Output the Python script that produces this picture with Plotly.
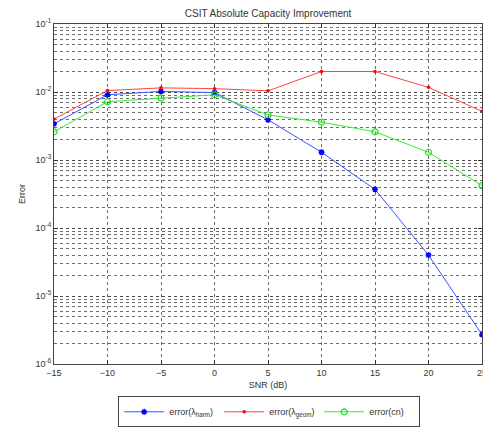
import plotly.graph_objects as go

snr = [-15, -10, -5, 0, 5, 10, 15, 20, 25]
err_harm = [3.4e-3, 9.1e-3, 1.02e-2, 9.8e-3, 3.9e-3, 1.3e-3, 3.7e-4, 4.0e-5, 2.7e-6]
err_geom = [4.0e-3, 1.05e-2, 1.15e-2, 1.12e-2, 1.04e-2, 2.0e-2, 2.0e-2, 1.17e-2, 5.2e-3]
err_cn = [2.6e-3, 7.2e-3, 8.1e-3, 9.1e-3, 4.6e-3, 3.6e-3, 2.6e-3, 1.3e-3, 4.2e-4]

x_ticks = [-15, -10, -5, 0, 5, 10, 15, 20, 25]
y_tickvals = [1e-6, 1e-5, 1e-4, 1e-3, 1e-2, 1e-1]
y_ticktext = ["10<sup>-6</sup>", "10<sup>-5</sup>", "10<sup>-4</sup>", "10<sup>-3</sup>", "10<sup>-2</sup>", "10<sup>-1</sup>"]

font_family = "Liberation Sans, Arial, sans-serif"
txt = "#333333"

fig = go.Figure()
fig.add_trace(go.Scatter(x=snr, y=err_harm, mode="lines+markers", name="error(λ<sub>harm</sub>)",
                         line=dict(color="#3355ff", width=1),
                         marker=dict(symbol="asterisk-open", size=5, color="#0000ff", line=dict(width=1.5, color="#0000ff"))))
fig.add_trace(go.Scatter(x=snr, y=err_geom, mode="lines+markers", name="error(λ<sub>geom</sub>)",
                         line=dict(color="#ff4444", width=1),
                         marker=dict(symbol="circle", size=3.5, color="#ff0000")))
fig.add_trace(go.Scatter(x=snr, y=err_cn, mode="lines+markers", name="error(cn)",
                         line=dict(color="#33ee33", width=1),
                         marker=dict(symbol="circle-open", size=6, color="#22dd22", line=dict(width=1.2))))

grid_col = "rgba(60,60,60,0.75)"
fig.update_layout(
    width=483, height=428,
    margin=dict(l=54, r=1, t=24, b=61),
    paper_bgcolor="white", plot_bgcolor="white",
    font=dict(family=font_family, size=9, color=txt),
    title=dict(text="CSIT Absolute Capacity Improvement", x=0.555, xanchor="center", y=0.968, yanchor="middle",
               font=dict(size=10, color=txt)),
    showlegend=True,
    legend=dict(orientation="h", x=0.15, xanchor="left", y=-0.095, yanchor="top",
                bordercolor="#444444", borderwidth=1, bgcolor="white",
                font=dict(size=9, color=txt), itemwidth=40, entrywidth=45, entrywidthmode="pixels",
                tracegroupgap=0),
    xaxis=dict(range=[-15, 25], tickvals=x_ticks, ticks="inside", ticklen=4, tickcolor="#333",
               ticklabeloverflow="allow", automargin=False,
               showline=True, linecolor="#444", linewidth=1, mirror="ticks",
               showgrid=True, gridcolor=grid_col, griddash="dot", gridwidth=1, zeroline=False,
               title=dict(text="SNR (dB)", standoff=4, font=dict(size=9, color=txt))),
    yaxis=dict(type="log", range=[-6, -1], tickvals=y_tickvals, ticktext=y_ticktext, ticks="inside", ticklen=4,
               tickcolor="#333", showline=True, linecolor="#444", linewidth=1, mirror="ticks",
               showgrid=True, gridcolor=grid_col, griddash="dot", gridwidth=1, zeroline=False,
               minor=dict(dtick="D1", showgrid=True, gridcolor=grid_col, griddash="dot", gridwidth=1, ticks=""),
               title=dict(text="Error", standoff=8, font=dict(size=9, color=txt))),
)

fig.write_html("out.html")
